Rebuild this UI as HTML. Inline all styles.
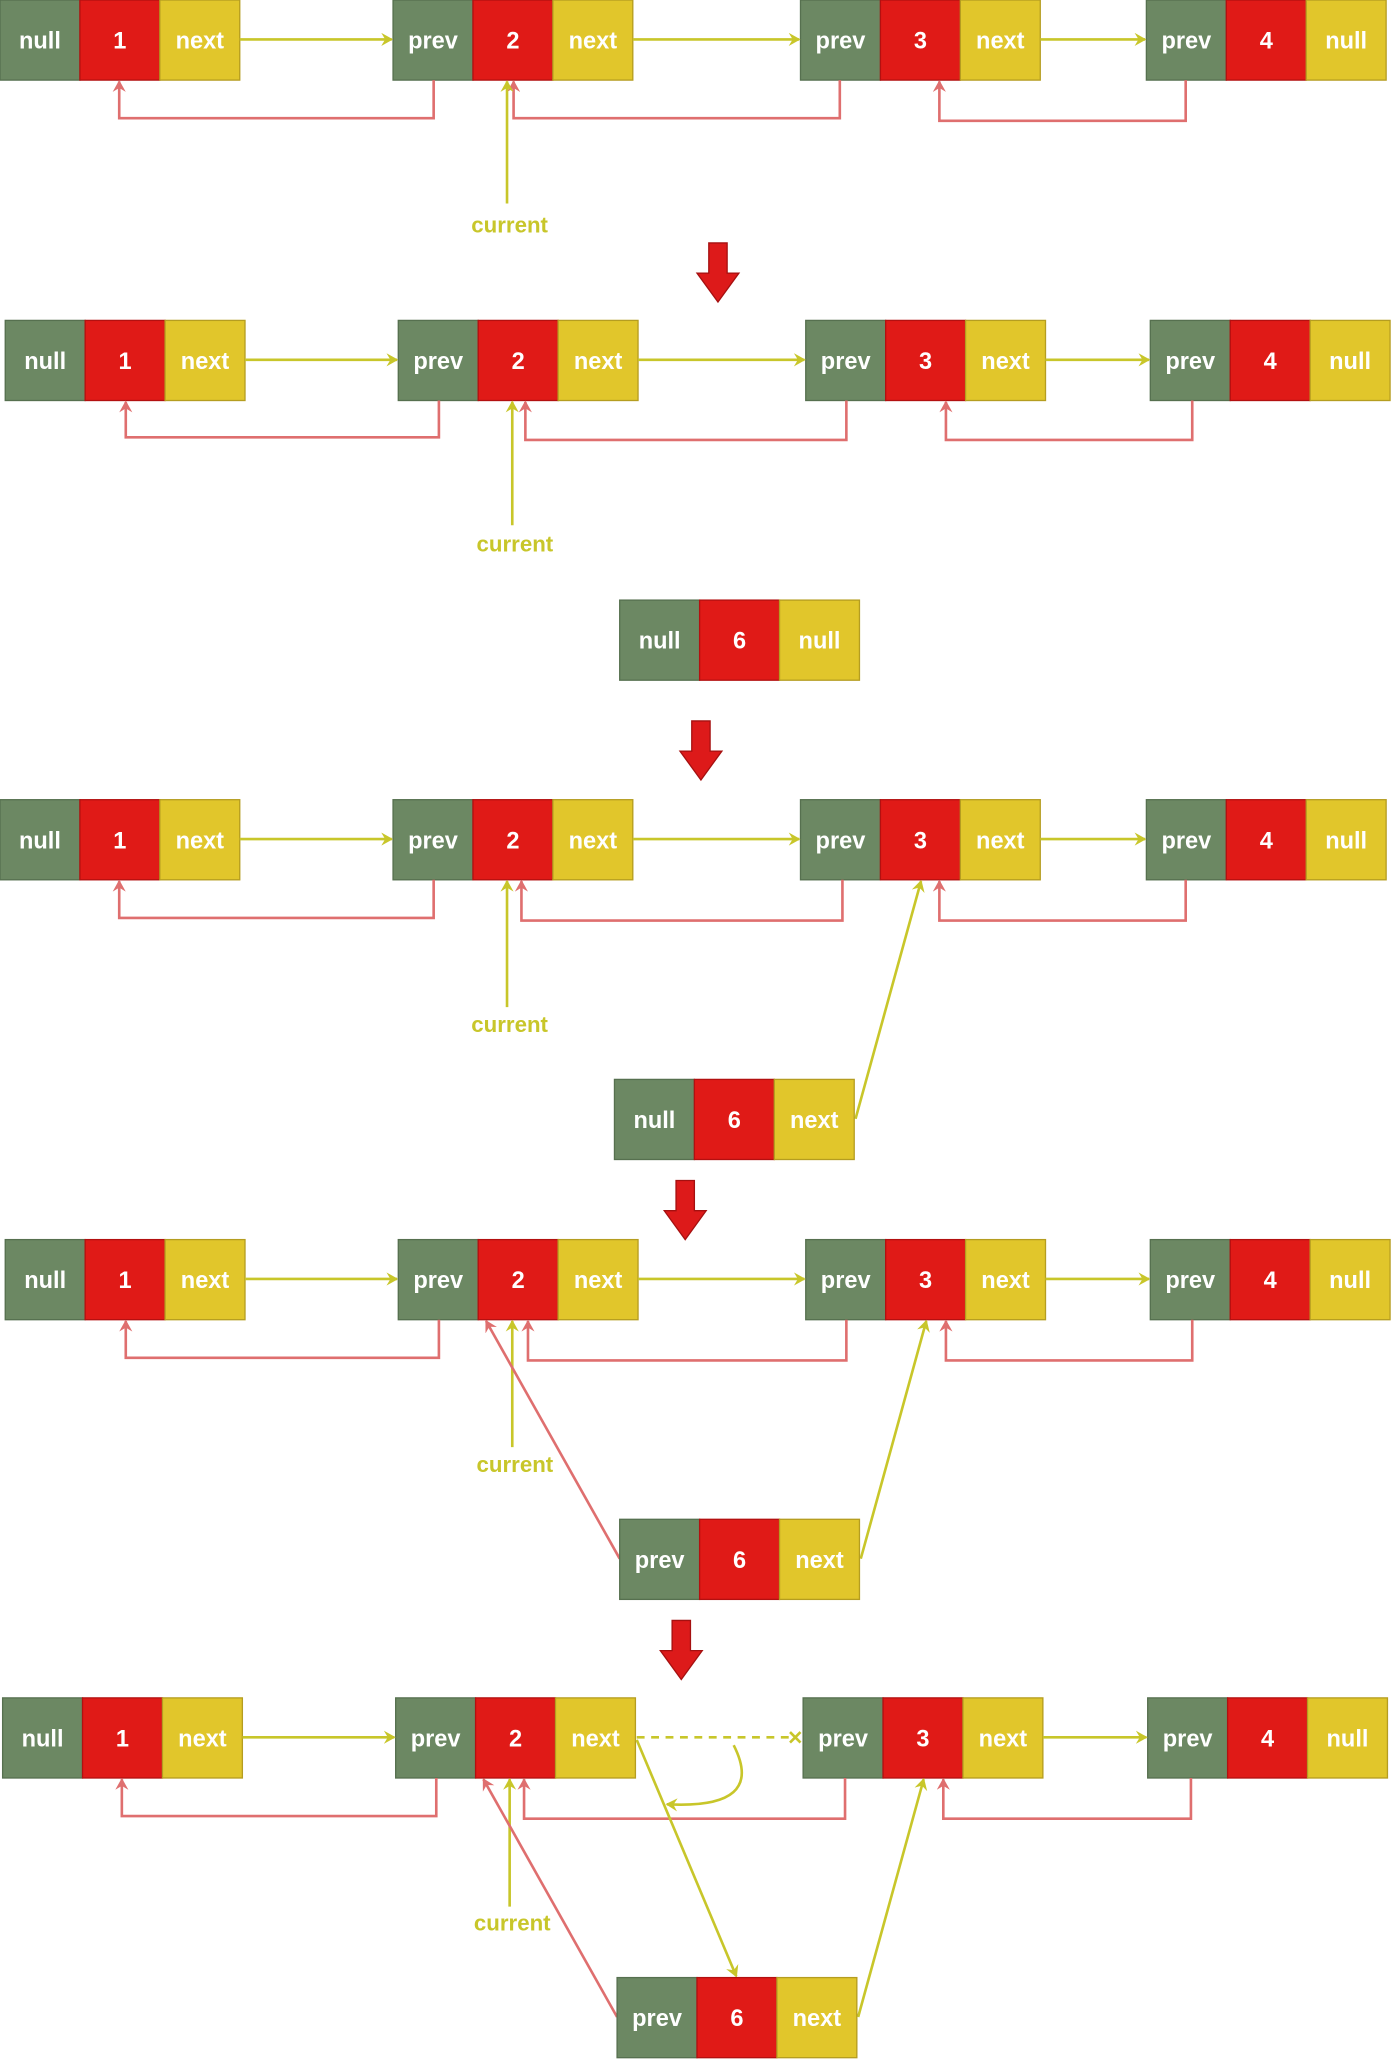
<!DOCTYPE html>
<html><head><meta charset="utf-8"><style>
html,body{margin:0;padding:0;background:#fff;width:1394px;height:2059px;overflow:hidden}
svg{display:block}
text{font-family:"Liberation Sans",sans-serif;font-weight:bold}
</style></head><body>
<svg width="1394" height="2059" viewBox="0 0 1064 1568" preserveAspectRatio="none" xmlns="http://www.w3.org/2000/svg">
<defs>
<marker id="ay" markerWidth="10" markerHeight="10" refX="8" refY="5" orient="auto" markerUnits="userSpaceOnUse"><path d="M0,0 L9,5 L0,10 L3,5 z" fill="#c8c62a"/></marker>
<marker id="ar" markerWidth="10" markerHeight="10" refX="8" refY="5" orient="auto" markerUnits="userSpaceOnUse"><path d="M0,0 L9,5 L0,10 L3,5 z" fill="#df6f6f"/></marker>
<symbol id="big" overflow="visible"><path d="M-7,0 L7,0 L7,23 L16,23 L0,45 L-16,23 L-7,23 z" fill="#dd1a1a" stroke="#a51010" stroke-width="1"/></symbol>
</defs>
<g id="content"></g>
<script>
// static content written inline below
</script>
<!-- helper-free static content -->
<g font-size="18" text-anchor="middle" fill="#fff">
<!-- ROW 1 -->
<g transform="translate(0,0)">
<rect x="0" y="0" width="61" height="61" fill="#6c8863" stroke="#56704f"/><rect x="61" y="0" width="61" height="61" fill="#e01a17" stroke="#b31010"/><rect x="122" y="0" width="61" height="61" fill="#e1c62b" stroke="#b59d20"/>
<text x="30.5" y="37">null</text><text x="91.5" y="37">1</text><text x="152.5" y="37">next</text>
<rect x="300" y="0" width="61" height="61" fill="#6c8863" stroke="#56704f"/><rect x="361" y="0" width="61" height="61" fill="#e01a17" stroke="#b31010"/><rect x="422" y="0" width="61" height="61" fill="#e1c62b" stroke="#b59d20"/>
<text x="330.5" y="37">prev</text><text x="391.5" y="37">2</text><text x="452.5" y="37">next</text>
<rect x="611" y="0" width="61" height="61" fill="#6c8863" stroke="#56704f"/><rect x="672" y="0" width="61" height="61" fill="#e01a17" stroke="#b31010"/><rect x="733" y="0" width="61" height="61" fill="#e1c62b" stroke="#b59d20"/>
<text x="641.5" y="37">prev</text><text x="702.5" y="37">3</text><text x="763.5" y="37">next</text>
<rect x="875" y="0" width="61" height="61" fill="#6c8863" stroke="#56704f"/><rect x="936" y="0" width="61" height="61" fill="#e01a17" stroke="#b31010"/><rect x="997" y="0" width="61" height="61" fill="#e1c62b" stroke="#b59d20"/>
<text x="905.5" y="37">prev</text><text x="966.5" y="37">4</text><text x="1027.5" y="37">null</text>
</g>
</g>
<g fill="none" stroke-width="2">
<path d="M183,30 H299" stroke="#c8c62a" marker-end="url(#ay)"/>
<path d="M483,30 H610" stroke="#c8c62a" marker-end="url(#ay)"/>
<path d="M794,30 H874" stroke="#c8c62a" marker-end="url(#ay)"/>
<path d="M331,61 V90 H91 V62" stroke="#df6f6f" marker-end="url(#ar)"/>
<path d="M641,61 V90 H392 V62" stroke="#df6f6f" marker-end="url(#ar)"/>
<path d="M905,61 V92 H717 V62" stroke="#df6f6f" marker-end="url(#ar)"/>
<path d="M387,155 V62" stroke="#c8c62a" marker-end="url(#ay)"/>
</g>
<text x="389" y="177" font-size="17" text-anchor="middle" fill="#c8c62a">current</text>
<use href="#big" x="548" y="185"/>

<!-- ROW 2 -->
<g font-size="18" text-anchor="middle" fill="#fff" transform="translate(4,244)">
<rect x="0" y="0" width="61" height="61" fill="#6c8863" stroke="#56704f"/><rect x="61" y="0" width="61" height="61" fill="#e01a17" stroke="#b31010"/><rect x="122" y="0" width="61" height="61" fill="#e1c62b" stroke="#b59d20"/>
<text x="30.5" y="37">null</text><text x="91.5" y="37">1</text><text x="152.5" y="37">next</text>
<rect x="300" y="0" width="61" height="61" fill="#6c8863" stroke="#56704f"/><rect x="361" y="0" width="61" height="61" fill="#e01a17" stroke="#b31010"/><rect x="422" y="0" width="61" height="61" fill="#e1c62b" stroke="#b59d20"/>
<text x="330.5" y="37">prev</text><text x="391.5" y="37">2</text><text x="452.5" y="37">next</text>
<rect x="611" y="0" width="61" height="61" fill="#6c8863" stroke="#56704f"/><rect x="672" y="0" width="61" height="61" fill="#e01a17" stroke="#b31010"/><rect x="733" y="0" width="61" height="61" fill="#e1c62b" stroke="#b59d20"/>
<text x="641.5" y="37">prev</text><text x="702.5" y="37">3</text><text x="763.5" y="37">next</text>
<rect x="874" y="0" width="61" height="61" fill="#6c8863" stroke="#56704f"/><rect x="935" y="0" width="61" height="61" fill="#e01a17" stroke="#b31010"/><rect x="996" y="0" width="61" height="61" fill="#e1c62b" stroke="#b59d20"/>
<text x="904.5" y="37">prev</text><text x="965.5" y="37">4</text><text x="1026.5" y="37">null</text>
</g>
<g fill="none" stroke-width="2">
<path d="M187,274 H303" stroke="#c8c62a" marker-end="url(#ay)"/>
<path d="M487,274 H614" stroke="#c8c62a" marker-end="url(#ay)"/>
<path d="M798,274 H877" stroke="#c8c62a" marker-end="url(#ay)"/>
<path d="M335,305 V333 H96 V306" stroke="#df6f6f" marker-end="url(#ar)"/>
<path d="M646,305 V335 H401 V306" stroke="#df6f6f" marker-end="url(#ar)"/>
<path d="M910,305 V335 H722 V306" stroke="#df6f6f" marker-end="url(#ar)"/>
<path d="M391,400 V306" stroke="#c8c62a" marker-end="url(#ay)"/>
</g>
<text x="393" y="420" font-size="17" text-anchor="middle" fill="#c8c62a">current</text>

<g font-size="18" text-anchor="middle" fill="#fff" transform="translate(473,457)">
<rect x="0" y="0" width="61" height="61" fill="#6c8863" stroke="#56704f"/><rect x="61" y="0" width="61" height="61" fill="#e01a17" stroke="#b31010"/><rect x="122" y="0" width="61" height="61" fill="#e1c62b" stroke="#b59d20"/>
<text x="30.5" y="37">null</text><text x="91.5" y="37">6</text><text x="152.5" y="37">null</text>
</g>
<use href="#big" x="535" y="549"/>

<!-- ROW 3 -->
<g font-size="18" text-anchor="middle" fill="#fff" transform="translate(0,609)">
<rect x="0" y="0" width="61" height="61" fill="#6c8863" stroke="#56704f"/><rect x="61" y="0" width="61" height="61" fill="#e01a17" stroke="#b31010"/><rect x="122" y="0" width="61" height="61" fill="#e1c62b" stroke="#b59d20"/>
<text x="30.5" y="37">null</text><text x="91.5" y="37">1</text><text x="152.5" y="37">next</text>
<rect x="300" y="0" width="61" height="61" fill="#6c8863" stroke="#56704f"/><rect x="361" y="0" width="61" height="61" fill="#e01a17" stroke="#b31010"/><rect x="422" y="0" width="61" height="61" fill="#e1c62b" stroke="#b59d20"/>
<text x="330.5" y="37">prev</text><text x="391.5" y="37">2</text><text x="452.5" y="37">next</text>
<rect x="611" y="0" width="61" height="61" fill="#6c8863" stroke="#56704f"/><rect x="672" y="0" width="61" height="61" fill="#e01a17" stroke="#b31010"/><rect x="733" y="0" width="61" height="61" fill="#e1c62b" stroke="#b59d20"/>
<text x="641.5" y="37">prev</text><text x="702.5" y="37">3</text><text x="763.5" y="37">next</text>
<rect x="875" y="0" width="61" height="61" fill="#6c8863" stroke="#56704f"/><rect x="936" y="0" width="61" height="61" fill="#e01a17" stroke="#b31010"/><rect x="997" y="0" width="61" height="61" fill="#e1c62b" stroke="#b59d20"/>
<text x="905.5" y="37">prev</text><text x="966.5" y="37">4</text><text x="1027.5" y="37">null</text>
</g>
<g fill="none" stroke-width="2">
<path d="M183,639 H299" stroke="#c8c62a" marker-end="url(#ay)"/>
<path d="M483,639 H610" stroke="#c8c62a" marker-end="url(#ay)"/>
<path d="M794,639 H874" stroke="#c8c62a" marker-end="url(#ay)"/>
<path d="M331,670 V699 H91 V671" stroke="#df6f6f" marker-end="url(#ar)"/>
<path d="M643,670 V701 H398 V671" stroke="#df6f6f" marker-end="url(#ar)"/>
<path d="M905,670 V701 H717 V671" stroke="#df6f6f" marker-end="url(#ar)"/>
<path d="M387,767 V671" stroke="#c8c62a" marker-end="url(#ay)"/>
<path d="M653,852 L703,671" stroke="#c8c62a" marker-end="url(#ay)"/>
</g>
<text x="389" y="786" font-size="17" text-anchor="middle" fill="#c8c62a">current</text>
<g font-size="18" text-anchor="middle" fill="#fff" transform="translate(469,822)">
<rect x="0" y="0" width="61" height="61" fill="#6c8863" stroke="#56704f"/><rect x="61" y="0" width="61" height="61" fill="#e01a17" stroke="#b31010"/><rect x="122" y="0" width="61" height="61" fill="#e1c62b" stroke="#b59d20"/>
<text x="30.5" y="37">null</text><text x="91.5" y="37">6</text><text x="152.5" y="37">next</text>
</g>
<use href="#big" x="523" y="899"/>

<!-- ROW 4 -->
<g font-size="18" text-anchor="middle" fill="#fff" transform="translate(4,944)">
<rect x="0" y="0" width="61" height="61" fill="#6c8863" stroke="#56704f"/><rect x="61" y="0" width="61" height="61" fill="#e01a17" stroke="#b31010"/><rect x="122" y="0" width="61" height="61" fill="#e1c62b" stroke="#b59d20"/>
<text x="30.5" y="37">null</text><text x="91.5" y="37">1</text><text x="152.5" y="37">next</text>
<rect x="300" y="0" width="61" height="61" fill="#6c8863" stroke="#56704f"/><rect x="361" y="0" width="61" height="61" fill="#e01a17" stroke="#b31010"/><rect x="422" y="0" width="61" height="61" fill="#e1c62b" stroke="#b59d20"/>
<text x="330.5" y="37">prev</text><text x="391.5" y="37">2</text><text x="452.5" y="37">next</text>
<rect x="611" y="0" width="61" height="61" fill="#6c8863" stroke="#56704f"/><rect x="672" y="0" width="61" height="61" fill="#e01a17" stroke="#b31010"/><rect x="733" y="0" width="61" height="61" fill="#e1c62b" stroke="#b59d20"/>
<text x="641.5" y="37">prev</text><text x="702.5" y="37">3</text><text x="763.5" y="37">next</text>
<rect x="874" y="0" width="61" height="61" fill="#6c8863" stroke="#56704f"/><rect x="935" y="0" width="61" height="61" fill="#e01a17" stroke="#b31010"/><rect x="996" y="0" width="61" height="61" fill="#e1c62b" stroke="#b59d20"/>
<text x="904.5" y="37">prev</text><text x="965.5" y="37">4</text><text x="1026.5" y="37">null</text>
</g>
<g fill="none" stroke-width="2">
<path d="M187,974 H303" stroke="#c8c62a" marker-end="url(#ay)"/>
<path d="M487,974 H614" stroke="#c8c62a" marker-end="url(#ay)"/>
<path d="M798,974 H877" stroke="#c8c62a" marker-end="url(#ay)"/>
<path d="M335,1005 V1034 H96 V1006" stroke="#df6f6f" marker-end="url(#ar)"/>
<path d="M646,1005 V1036 H403 V1006" stroke="#df6f6f" marker-end="url(#ar)"/>
<path d="M910,1005 V1036 H722 V1006" stroke="#df6f6f" marker-end="url(#ar)"/>
<path d="M391,1102 V1006" stroke="#c8c62a" marker-end="url(#ay)"/>
<path d="M657,1187 L707,1006" stroke="#c8c62a" marker-end="url(#ay)"/>
<path d="M473,1187 L371,1006" stroke="#df6f6f" marker-end="url(#ar)"/>
</g>
<text x="393" y="1121" font-size="17" text-anchor="middle" fill="#c8c62a">current</text>
<g font-size="18" text-anchor="middle" fill="#fff" transform="translate(473,1157)">
<rect x="0" y="0" width="61" height="61" fill="#6c8863" stroke="#56704f"/><rect x="61" y="0" width="61" height="61" fill="#e01a17" stroke="#b31010"/><rect x="122" y="0" width="61" height="61" fill="#e1c62b" stroke="#b59d20"/>
<text x="30.5" y="37">prev</text><text x="91.5" y="37">6</text><text x="152.5" y="37">next</text>
</g>
<use href="#big" x="520" y="1234"/>

<!-- ROW 5 -->
<g font-size="18" text-anchor="middle" fill="#fff" transform="translate(2,1293)">
<rect x="0" y="0" width="61" height="61" fill="#6c8863" stroke="#56704f"/><rect x="61" y="0" width="61" height="61" fill="#e01a17" stroke="#b31010"/><rect x="122" y="0" width="61" height="61" fill="#e1c62b" stroke="#b59d20"/>
<text x="30.5" y="37">null</text><text x="91.5" y="37">1</text><text x="152.5" y="37">next</text>
<rect x="300" y="0" width="61" height="61" fill="#6c8863" stroke="#56704f"/><rect x="361" y="0" width="61" height="61" fill="#e01a17" stroke="#b31010"/><rect x="422" y="0" width="61" height="61" fill="#e1c62b" stroke="#b59d20"/>
<text x="330.5" y="37">prev</text><text x="391.5" y="37">2</text><text x="452.5" y="37">next</text>
<rect x="611" y="0" width="61" height="61" fill="#6c8863" stroke="#56704f"/><rect x="672" y="0" width="61" height="61" fill="#e01a17" stroke="#b31010"/><rect x="733" y="0" width="61" height="61" fill="#e1c62b" stroke="#b59d20"/>
<text x="641.5" y="37">prev</text><text x="702.5" y="37">3</text><text x="763.5" y="37">next</text>
<rect x="874" y="0" width="61" height="61" fill="#6c8863" stroke="#56704f"/><rect x="935" y="0" width="61" height="61" fill="#e01a17" stroke="#b31010"/><rect x="996" y="0" width="61" height="61" fill="#e1c62b" stroke="#b59d20"/>
<text x="904.5" y="37">prev</text><text x="965.5" y="37">4</text><text x="1026.5" y="37">null</text>
</g>
<g fill="none" stroke-width="2">
<path d="M185,1323 H301" stroke="#c8c62a" marker-end="url(#ay)"/>
<path d="M486,1323 H604" stroke="#c8c62a" stroke-dasharray="6,5"/>
<path d="M603,1319 L611,1327 M611,1319 L603,1327" stroke="#c8c62a"/>
<path d="M796,1323 H875" stroke="#c8c62a" marker-end="url(#ay)"/>
<path d="M333,1354 V1383 H93 V1355" stroke="#df6f6f" marker-end="url(#ar)"/>
<path d="M645,1354 V1385 H400 V1355" stroke="#df6f6f" marker-end="url(#ar)"/>
<path d="M909,1354 V1385 H720 V1355" stroke="#df6f6f" marker-end="url(#ar)"/>
<path d="M389,1452 V1355" stroke="#c8c62a" marker-end="url(#ay)"/>
<path d="M486,1325 L562,1505" stroke="#c8c62a" marker-end="url(#ay)"/>
<path d="M655,1536 L705,1355" stroke="#c8c62a" marker-end="url(#ay)"/>
<path d="M471,1536 L369,1355" stroke="#df6f6f" marker-end="url(#ar)"/>
<path d="M560,1329 Q585,1378 509,1374" stroke="#c8c62a" marker-end="url(#ay)"/>
</g>
<text x="391" y="1470" font-size="17" text-anchor="middle" fill="#c8c62a">current</text>
<g font-size="18" text-anchor="middle" fill="#fff" transform="translate(471,1506)">
<rect x="0" y="0" width="61" height="61" fill="#6c8863" stroke="#56704f"/><rect x="61" y="0" width="61" height="61" fill="#e01a17" stroke="#b31010"/><rect x="122" y="0" width="61" height="61" fill="#e1c62b" stroke="#b59d20"/>
<text x="30.5" y="37">prev</text><text x="91.5" y="37">6</text><text x="152.5" y="37">next</text>
</g>
</svg>
</body></html>
